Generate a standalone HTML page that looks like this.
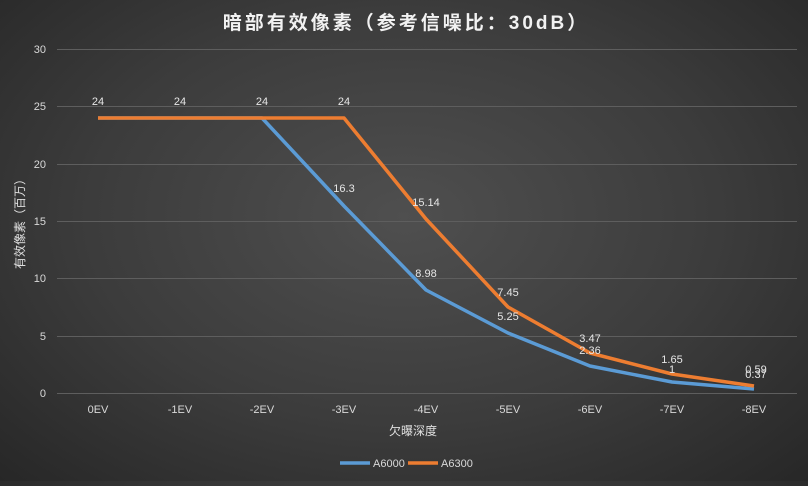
<!DOCTYPE html>
<html><head><meta charset="utf-8"><style>
body{margin:0;width:808px;height:481px;overflow:hidden;background:radial-gradient(ellipse at 50% 45%,#4f4f4f 0%,#3c3c3c 55%,#272727 100%);font-family:"Liberation Sans","Noto Sans CJK SC",sans-serif}
</style></head><body>
<svg width="808" height="481" xmlns="http://www.w3.org/2000/svg" font-family="Liberation Sans, Noto Sans CJK SC, sans-serif">
<text x="406" y="29" fill="#f2f2f2" font-size="19" text-anchor="middle" font-weight="bold" letter-spacing="3">暗部有效像素（参考信噪比：30dB）</text>
<g stroke="#5e5e5e" stroke-width="1">
<line x1="57" x2="797" y1="49.5" y2="49.5"/><line x1="57" x2="797" y1="106.5" y2="106.5"/><line x1="57" x2="797" y1="164.5" y2="164.5"/><line x1="57" x2="797" y1="221.5" y2="221.5"/><line x1="57" x2="797" y1="278.5" y2="278.5"/><line x1="57" x2="797" y1="336.5" y2="336.5"/><line x1="57" x2="797" y1="393.5" y2="393.5"/>
</g>
<g fill="#d9d9d9" font-size="11" text-anchor="end">
<text x="46" y="53">30</text><text x="46" y="110">25</text><text x="46" y="168">20</text><text x="46" y="225">15</text><text x="46" y="282">10</text><text x="46" y="340">5</text><text x="46" y="397">0</text>
</g>
<g fill="#d9d9d9" font-size="11" text-anchor="middle">
<text x="98" y="413">0EV</text><text x="180" y="413">-1EV</text><text x="262" y="413">-2EV</text><text x="344" y="413">-3EV</text><text x="426" y="413">-4EV</text><text x="508" y="413">-5EV</text><text x="590" y="413">-6EV</text><text x="672" y="413">-7EV</text><text x="754" y="413">-8EV</text>
</g>
<text x="413" y="435" fill="#e0e0e0" font-size="12" text-anchor="middle">欠曝深度</text>
<text transform="translate(24,221) rotate(-90)" fill="#e0e0e0" font-size="12" text-anchor="middle">有效像素（百万）</text>
<polyline fill="none" stroke="#5b9bd5" stroke-width="3.5" stroke-linejoin="round" points="98,118 180,118 262,118 344,206 426,290 508,333 590,366 672,382 754,389"/>
<polyline fill="none" stroke="#ed7d31" stroke-width="3.5" stroke-linejoin="round" points="98,118 180,118 262,118 344,118 426,219 508,307 590,353 672,374 754,386"/>
<g fill="#e6e6e6" font-size="11" text-anchor="middle">
<text x="98" y="105">24</text><text x="180" y="105">24</text><text x="262" y="105">24</text><text x="344" y="105">24</text>
<text x="344" y="192">16.3</text><text x="426" y="206">15.14</text><text x="426" y="277">8.98</text><text x="508" y="296">7.45</text><text x="508" y="320">5.25</text>
<text x="590" y="342">3.47</text><text x="590" y="354">2.36</text><text x="672" y="363">1.65</text><text x="672" y="373">1</text>
<text x="756" y="373">0.59</text><text x="756" y="378">0.37</text>
</g>
<line x1="340" x2="370" y1="463" y2="463" stroke="#5b9bd5" stroke-width="3.5"/>
<text x="373" y="467" fill="#d9d9d9" font-size="11">A6000</text>
<line x1="408" x2="438" y1="463" y2="463" stroke="#ed7d31" stroke-width="3.5"/>
<text x="441" y="467" fill="#d9d9d9" font-size="11">A6300</text>
</svg>
</body></html>
